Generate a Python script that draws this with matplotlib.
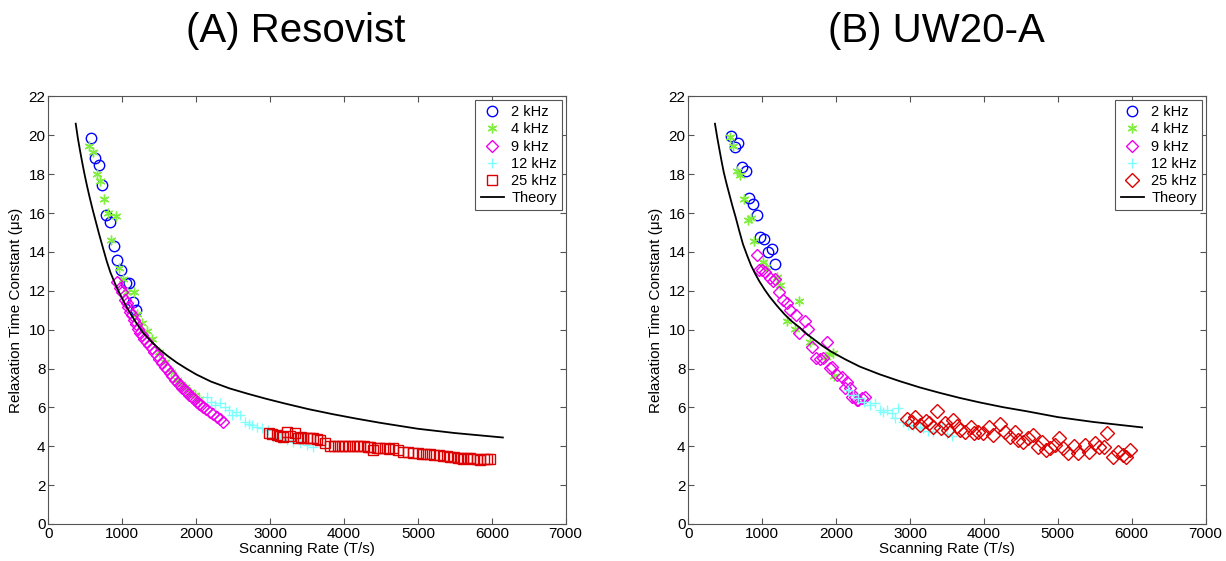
import matplotlib
matplotlib.use("Agg")
import matplotlib.pyplot as plt

plt.rcParams['font.family'] = ['Liberation Sans', 'DejaVu Sans']

# ---- (A) Resovist ----
a_2k_x = [578, 632, 682, 731, 777, 831, 885, 930, 984, 1047, 1096, 1142, 1187]
a_2k_y = [19.84, 18.85, 18.45, 17.46, 15.90, 15.55, 14.28, 13.56, 13.06, 12.41, 12.41, 11.43, 11.02]

a_4k_x = [555, 609, 655, 704, 758, 812, 848, 912, 961, 1007, 1069, 1160, 1204, 1264, 1330,
          1400, 1502, 1579, 1660, 1737, 1800, 1850, 1918, 1985, 2040]
a_4k_y = [19.46, 19.16, 18.02, 17.63, 16.75, 16.0, 14.59, 15.86, 13.17, 12.63, 11.93, 11.93, 10.81,
          10.35, 9.95, 9.5, 8.87, 8.36, 7.84, 7.41, 7.2, 7.07, 6.81, 6.64, 6.45]

a_9k_x = [934, 970, 1000, 1034, 1060, 1083, 1110, 1137, 1165, 1187, 1215, 1241, 1270, 1300, 1330,
          1360, 1399, 1430, 1467, 1500, 1540, 1579, 1610, 1647, 1680, 1715, 1750, 1782, 1815, 1850,
          1880, 1910, 1940, 1975, 2008, 2040, 2070, 2097, 2140, 2188, 2230, 2279, 2320, 2368]
a_9k_y = [12.43, 12.15, 11.95, 11.55, 11.35, 11.15, 10.9, 10.75, 10.5, 10.3, 10.05, 9.85, 9.7, 9.5,
          9.35, 9.2, 9.05, 8.85, 8.7, 8.5, 8.3, 8.1, 7.95, 7.78, 7.6, 7.42, 7.28, 7.15, 7.0, 6.9,
          6.78, 6.65, 6.55, 6.42, 6.3, 6.2, 6.1, 6.02, 5.9, 5.78, 5.65, 5.52, 5.4, 5.27]

a_12k_x = [2143, 2200, 2256, 2323, 2391, 2440, 2481, 2540, 2594, 2662, 2710, 2752, 2820, 2888,
           2977, 3045, 3130, 3226, 3316, 3406, 3496, 3586]
a_12k_y = [6.56, 6.3, 6.13, 6.21, 6.04, 5.85, 5.61, 5.75, 5.61, 5.27, 5.15, 5.10, 5.01, 4.93,
           4.84, 4.5, 4.45, 4.33, 4.24, 4.16, 4.07, 3.98]

a_25k_x = [2981, 3030, 3091, 3140, 3180, 3226, 3270, 3338, 3380, 3420, 3451, 3500, 3545, 3586,
           3630, 3677, 3744, 3812, 3870, 3920, 3970, 4020, 4070, 4120, 4170, 4220, 4270, 4320,
           4354, 4398, 4450, 4489, 4550, 4610, 4669, 4730, 4804, 4870, 4939, 5000, 5060, 5110,
           5165, 5220, 5280, 5340, 5391, 5440, 5490, 5540, 5580, 5616, 5660, 5706, 5750, 5800,
           5842, 5890, 5940, 5977]
a_25k_y = [4.70, 4.62, 4.58, 4.55, 4.50, 4.75, 4.55, 4.67, 4.45, 4.47, 4.41, 4.42, 4.40, 4.41,
           4.37, 4.33, 4.19, 4.02, 4.03, 4.02, 4.02, 4.02, 4.01, 4.02, 4.0, 4.0, 3.99, 3.98,
           3.98, 3.81, 3.92, 3.90, 3.90, 3.88, 3.90, 3.80, 3.72, 3.68, 3.64, 3.63, 3.62, 3.61,
           3.60, 3.57, 3.55, 3.52, 3.50, 3.47, 3.45, 3.42, 3.38, 3.33, 3.40, 3.38, 3.35, 3.32,
           3.30, 3.32, 3.33, 3.33]

a_th_x = [371, 400, 430, 460, 490, 525, 560, 600, 640, 690, 740, 790, 840, 900, 960, 1030, 1100,
          1190, 1280, 1390, 1500, 1620, 1740, 1870, 2000, 2200, 2450, 2700, 2950, 3200, 3520,
          3850, 4170, 4500, 5000, 5500, 6150]
a_th_y = [20.6, 19.85, 19.2, 18.58, 18.0, 17.38, 16.8, 16.18, 15.6, 14.88, 14.2, 13.53, 12.95,
          12.4, 11.9, 11.38, 10.9, 10.35, 9.85, 9.4, 9.0, 8.63, 8.3, 7.99, 7.7, 7.33, 6.98, 6.7,
          6.44, 6.2, 5.91, 5.65, 5.42, 5.2, 4.9, 4.68, 4.45]

# ---- (B) UW20-A ----
b_2k_x = [574, 628, 677, 722, 781, 826, 876, 926, 970, 1029, 1074, 1128, 1178]
b_2k_y = [19.98, 19.40, 19.6, 18.37, 18.18, 16.77, 16.49, 15.9, 14.76, 14.66, 14.01, 14.14, 13.40]

b_4k_x = [564, 601, 663, 700, 754, 808, 844, 889, 1007, 1051, 1204, 1241, 1502, 1340, 1444,
          1647, 1860, 1910, 1954, 1972]
b_4k_y = [19.94, 19.47, 18.18, 17.97, 16.72, 15.62, 15.74, 14.54, 13.46, 13.2, 12.73, 12.31,
          11.5, 10.47, 10.03, 9.39, 8.6, 8.75, 8.82, 7.59]

b_9k_x = [926, 961, 993, 1038, 1106, 1150, 1173, 1231, 1286, 1331, 1376, 1457, 1502, 1579, 1624,
          1670, 1728, 1782, 1827, 1872, 1918, 1940, 2008, 2076, 2120, 2143, 2188, 2211, 2256,
          2279, 2301, 2346, 2391]
b_9k_y = [13.85, 13.08, 13.08, 12.99, 12.65, 12.53, 12.60, 11.96, 11.53, 11.36, 11.02, 10.76,
          9.82, 10.47, 10.03, 9.13, 8.53, 8.48, 8.53, 9.34, 8.02, 8.07, 7.67, 7.55, 6.99, 7.33,
          6.99, 6.56, 6.56, 6.39, 6.39, 6.47, 6.56]

b_12k_x = [2165, 2233, 2300, 2380, 2459, 2526, 2594, 2639, 2685, 2752, 2797, 2842, 2909, 2977,
           3045, 3135, 3180, 3250, 3316, 3429, 3500, 3564]
b_12k_y = [6.9, 6.64, 6.5, 6.3, 6.13, 6.21, 5.87, 5.78, 5.87, 5.70, 5.44, 5.96, 5.27, 5.10,
           5.05, 5.01, 4.93, 4.80, 4.75, 4.93, 4.65, 4.55]

b_25k_x = [2964, 3023, 3068, 3135, 3216, 3261, 3370, 3316, 3415, 3474, 3519, 3577, 3632, 3677,
           3744, 3821, 3866, 3924, 3984, 4073, 4127, 4218, 4286, 4353, 4421, 4466, 4533, 4601,
           4660, 4736, 4782, 4840, 4894, 4962, 5020, 5074, 5142, 5219, 5277, 5368, 5426, 5503,
           5562, 5625, 5670, 5742, 5819, 5878, 5923, 5977]
b_25k_y = [5.39, 5.27, 5.49, 5.10, 5.32, 5.22, 5.82, 5.01, 4.93, 5.19, 4.84, 5.36, 5.05, 4.84,
           4.75, 5.01, 4.67, 4.75, 4.70, 5.01, 4.58, 5.15, 4.75, 4.50, 4.72, 4.33, 4.24, 4.41,
           4.58, 3.98, 4.24, 3.81, 3.90, 4.07, 4.41, 3.90, 3.64, 4.02, 3.64, 4.07, 3.72, 4.16,
           3.98, 3.98, 4.67, 3.47, 3.72, 3.55, 3.47, 3.81]

b_th_x = [361, 390, 420, 450, 480, 520, 560, 600, 640, 690, 740, 795, 850, 905, 960, 1030, 1100,
          1200, 1300, 1400, 1510, 1600, 1700, 1810, 1920, 2120, 2320, 2590, 2860, 3130, 3400,
          3670, 3950, 4260, 4580, 5000, 5480, 6140]
b_th_y = [20.6, 19.93, 19.3, 18.68, 18.1, 17.48, 16.9, 16.33, 15.8, 15.08, 14.4, 13.83, 13.3,
          12.88, 12.5, 12.08, 11.7, 11.23, 10.8, 10.43, 10.1, 9.78, 9.5, 9.18, 8.9, 8.48, 8.1,
          7.7, 7.35, 7.03, 6.75, 6.49, 6.25, 6.01, 5.8, 5.5, 5.25, 4.97]

labels = ['2 kHz', '4 kHz', '9 kHz', '12 kHz', '25 kHz']
BLUE = '#0000ff'
GREEN = '#80ee3c'
MAGENTA = '#ee00ee'
CYAN = '#80ffff'
RED = '#dd0000'
ASTER = (6, 2, 0)


def draw_panel(ax, series, theory, last_marker, last_size):
    styles = [('o', BLUE, 7.5), (ASTER, GREEN, 7), ('D', MAGENTA, 6.5), ('+', CYAN, 7.5),
              (last_marker, RED, last_size)]
    for (xs, ys), lab, (mk, col, ms) in zip(series, labels, styles):
        ax.plot(xs, ys, linestyle='none', marker=mk, markersize=ms, markerfacecolor='none',
                markeredgecolor=col, markeredgewidth=1.0, label=lab)
    ax.plot(theory[0], theory[1], color='black', lw=1.3, label='Theory')
    ax.set_xlim(0, 7000)
    ax.set_ylim(0, 22)
    ax.set_xticks(range(0, 7001, 1000))
    ax.set_yticks(range(0, 23, 2))
    ax.tick_params(direction='in', top=True, right=True, labelsize=11, length=4,
                   color='#555555', pad=2)
    for s in ax.spines.values():
        s.set_color('#555555')
    ax.set_xlabel('Scanning Rate (T/s)', fontsize=11, labelpad=1)
    ax.set_ylabel('Relaxation Time Constant (\u03bcs)', fontsize=11, labelpad=4)
    leg = ax.legend(loc='upper right', fontsize=10.5, fancybox=False, framealpha=1,
                    edgecolor='#555555', borderaxespad=0.25, handlelength=1.6,
                    handletextpad=0.5, borderpad=0.35, labelspacing=0.22)
    leg.get_frame().set_linewidth(0.8)


fig = plt.figure(figsize=(12.26, 5.61), dpi=100)
ax1 = fig.add_axes([0.0394, 0.066, 0.422, 0.762])
ax2 = fig.add_axes([0.5614, 0.066, 0.422, 0.762])

draw_panel(ax1, [(a_2k_x, a_2k_y), (a_4k_x, a_4k_y), (a_9k_x, a_9k_y), (a_12k_x, a_12k_y),
                 (a_25k_x, a_25k_y)], (a_th_x, a_th_y), 's', 6.5)
draw_panel(ax2, [(b_2k_x, b_2k_y), (b_4k_x, b_4k_y), (b_9k_x, b_9k_y), (b_12k_x, b_12k_y),
                 (b_25k_x, b_25k_y)], (b_th_x, b_th_y), 'D', 7)

fig.text(0.2415, 0.945, '(A) Resovist', fontsize=29, ha='center', va='center')
fig.text(0.7635, 0.945, '(B) UW20-A', fontsize=29, ha='center', va='center')

fig.savefig('out.png', dpi=100)
